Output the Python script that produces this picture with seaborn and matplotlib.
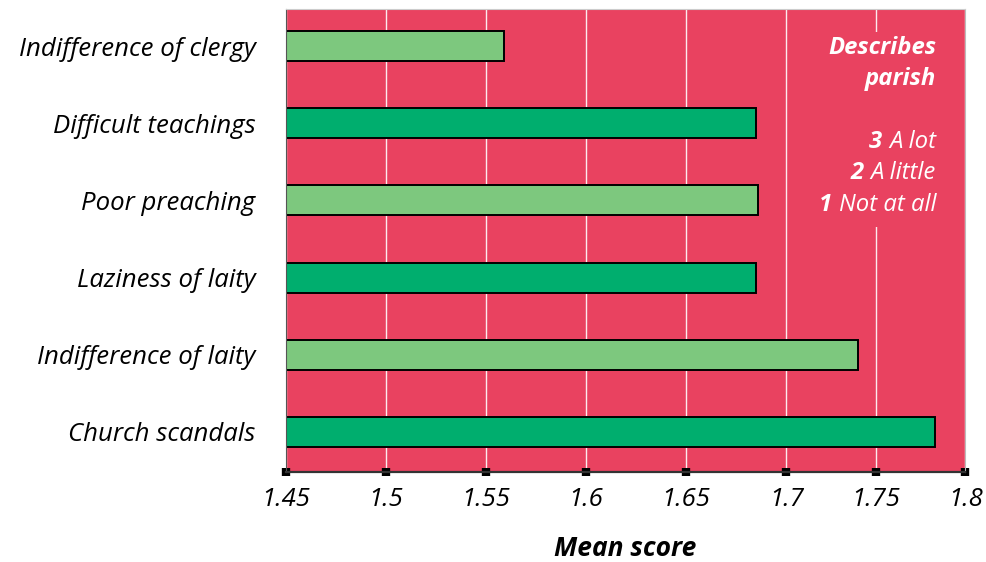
import matplotlib.pyplot as plt
import numpy as np
import pandas as pd
import seaborn as sns
from matplotlib.patches import Rectangle

#Data
reasons = ['Indifference of clergy', 'Difficult teachings', 'Poor preaching',
           'Laziness of laity', 'Indifference of laity', 'Church scandals']
mean_scores = [1.559, 1.685, 1.686, 1.685, 1.740, 1.783]
bar_colors = ['#7dc87e', '#00ae6e', '#7dc87e', '#00ae6e', '#7dc87e', '#00ae6e']
x_ticks = [1.45, 1.5, 1.55, 1.6, 1.65, 1.7, 1.75, 1.8]
x_tick_labels = ['1.45', '1.5', '1.55', '1.6', '1.65', '1.7', '1.75', '1.8']
legend_title = ['Describes', 'parish']
legend_scores = ['3', '2', '1']
legend_labels = ['A lot', 'A little', 'Not at all']

bg = '#e94260'

sns.set_style('white')
plt.rcParams['font.family'] = ['Open Sans', 'DejaVu Sans']
plt.rcParams['text.color'] = 'black'
plt.rcParams['xtick.color'] = 'black'
plt.rcParams['ytick.color'] = 'black'
plt.rcParams['axes.labelcolor'] = 'black'

df = pd.DataFrame({'Reason': reasons, 'Score': mean_scores})

fig, ax = plt.subplots(figsize=(9.86, 5.62), dpi=100)
fig.subplots_adjust(left=0.290, right=0.979, top=0.984, bottom=0.160)

sns.barplot(data=df, x='Score', y='Reason', hue='Reason', palette=bar_colors,
            saturation=1, width=0.39, edgecolor='black', linewidth=1.4,
            legend=False, ax=ax, zorder=2)

#The source axis is squeezed a little past 1.7
def fwd(x):
    x = np.asarray(x, dtype=float)
    return np.where(x <= 1.7, x, 1.7 + (x - 1.7) * 0.895)

def inv(x):
    x = np.asarray(x, dtype=float)
    return np.where(x <= 1.7, x, 1.7 + (x - 1.7) / 0.895)

ax.set_xscale('function', functions=(fwd, inv))
ax.set_xlim(1.45, 1.8)
ax.set_ylim(5.52, -0.48)
ax.set_xticks(x_ticks)
ax.set_xticklabels(x_tick_labels)
ax.set_facecolor(bg)
ax.set_axisbelow(True)
ax.grid(visible=True, axis='x', color='white', linewidth=1, alpha=0.9)
ax.grid(visible=False, axis='y')

ax.tick_params(axis='x', bottom=True, direction='inout', length=6, width=6,
               color='black', pad=8, labelsize=18.5)
ax.tick_params(axis='y', left=False, length=0, pad=22, labelsize=18.5)
for lab in ax.get_xticklabels() + ax.get_yticklabels():
    lab.set_fontstyle('italic')

ax.set_ylabel(None)
ax.set_xlabel('Mean score', fontsize=19, fontweight='bold',
              fontstyle='italic', labelpad=16)

ax.spines['left'].set_color('#555555')
ax.spines['bottom'].set_color('#333333')
ax.spines['bottom'].set_linewidth(1.6)
ax.spines['top'].set_color('#cccccc')
ax.spines['right'].set_color('#bbbbbb')
for s in ax.spines.values():
    s.set_visible(True)

#Legend block hides the gridline behind it
ax.add_patch(Rectangle((0.79, 0.53), 0.19, 0.42, transform=ax.transAxes,
                       facecolor=bg, edgecolor='none', zorder=1))

textprops = {'x': 0.957, 'ha': 'right', 'va': 'center', 'color': 'white',
             'fontsize': 17.2, 'fontstyle': 'italic', 'transform': ax.transAxes,
             'zorder': 3}
for y, s in zip([0.916, 0.849], legend_title):
    ax.text(y=y, s=s, fontweight='bold', **textprops)
for y, num, s in zip([0.713, 0.646, 0.577], legend_scores, legend_labels):
    t = ax.text(y=y, s=s, **textprops)
    ax.annotate(num, xy=(0, 0.5), xycoords=t, xytext=(-5, 0),
                textcoords='offset points', ha='right', va='center',
                color='white', fontsize=17.2, fontweight='bold',
                fontstyle='italic', zorder=3)

fig.savefig('out.png', dpi=100)
